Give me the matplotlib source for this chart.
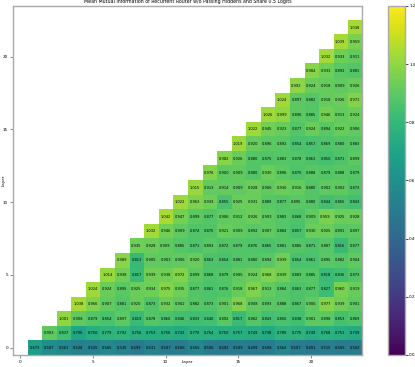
import matplotlib
matplotlib.use("Agg")
import matplotlib.pyplot as plt
import numpy as np

n_layers = 24
layers = list(range(n_layers))

# mean mutual information, row r holds layers r+1 .. 23
row_00 = [0.673, 0.587, 0.561, 0.528, 0.525, 0.565, 0.535, 0.499, 0.531, 0.507, 0.506, 0.555,
          0.506, 0.492, 0.509, 0.499, 0.508, 0.562, 0.507, 0.491, 0.515, 0.505, 0.502]
row_01 = [0.903, 0.837, 0.706, 0.750, 0.779, 0.792, 0.756, 0.759, 0.756, 0.743, 0.770, 0.764,
          0.750, 0.757, 0.749, 0.738, 0.780, 0.775, 0.749, 0.768, 0.751, 0.739]
row_02 = [1.001, 0.908, 0.879, 0.854, 0.897, 0.819, 0.878, 0.860, 0.846, 0.833, 0.840, 0.892,
          0.817, 0.882, 0.843, 0.856, 0.838, 0.901, 0.898, 0.853, 0.869]
row_03 = [1.038, 0.966, 0.907, 0.881, 0.920, 0.873, 0.932, 0.902, 0.882, 0.873, 0.901, 0.968,
          0.908, 0.893, 0.888, 0.867, 0.906, 0.977, 0.939, 0.901]
row_04 = [1.024, 0.924, 0.895, 0.925, 0.934, 0.975, 0.935, 0.877, 0.861, 0.876, 0.918, 0.967,
          0.913, 0.884, 0.863, 0.877, 0.827, 0.960, 0.919]
row_05 = [1.014, 0.938, 0.817, 0.939, 0.938, 0.972, 0.899, 0.868, 0.879, 0.905, 0.924, 0.968,
          0.939, 0.883, 0.885, 0.818, 0.836, 0.873]
row_06 = [0.989, 0.813, 0.905, 0.903, 0.906, 0.920, 0.863, 0.854, 0.881, 0.880, 0.894, 0.939,
          0.854, 0.861, 0.895, 0.882, 0.904]
row_07 = [0.935, 0.928, 0.909, 0.885, 0.871, 0.893, 0.872, 0.879, 0.876, 0.865, 0.881, 0.885,
          0.871, 0.887, 0.816, 0.877]
row_08 = [1.032, 0.946, 0.909, 0.874, 0.875, 0.921, 0.909, 0.892, 0.907, 0.884, 0.857, 0.930,
          0.925, 0.891, 0.897]
row_09 = [1.042, 0.947, 0.899, 0.877, 0.906, 0.912, 0.926, 0.903, 0.883, 0.868, 0.909, 0.959,
          0.925, 0.928]
row_10 = [1.022, 0.963, 0.933, 0.855, 0.925, 0.931, 0.889, 0.877, 0.895, 0.880, 0.844, 0.865, 0.843]
row_11 = [1.015, 0.913, 0.914, 0.909, 0.928, 0.906, 0.930, 0.916, 0.880, 0.902, 0.902, 0.873]
row_12 = [0.976, 0.900, 0.909, 0.880, 0.930, 0.896, 0.870, 0.888, 0.879, 0.888, 0.879]
row_13 = [0.982, 0.926, 0.880, 0.875, 0.883, 0.878, 0.863, 0.850, 0.871, 0.899]
row_14 = [1.019, 0.920, 0.896, 0.892, 0.854, 0.857, 0.869, 0.880, 0.883]
row_15 = [1.022, 0.945, 0.923, 0.877, 0.924, 0.894, 0.922, 0.906]
row_16 = [1.026, 0.999, 0.896, 0.885, 0.946, 0.913, 0.924]
row_17 = [1.024, 0.897, 0.882, 0.918, 0.926, 0.971]
row_18 = [0.992, 0.924, 0.918, 0.909, 0.926]
row_19 = [0.984, 0.933, 0.892, 0.881]
row_20 = [1.032, 0.933, 0.911]
row_21 = [1.039, 0.959]
row_22 = [1.038]

rows = [row_00, row_01, row_02, row_03, row_04, row_05, row_06, row_07, row_08, row_09,
        row_10, row_11, row_12, row_13, row_14, row_15, row_16, row_17, row_18, row_19,
        row_20, row_21, row_22]

mat = np.full((n_layers, n_layers), np.nan)
for r, vals in enumerate(rows):
    mat[r, r + 1:r + 1 + len(vals)] = vals
masked = np.ma.masked_invalid(mat)

fig = plt.figure(figsize=(4.15, 3.67), dpi=100)
ax = fig.add_axes([0.031, 0.033, 0.841, 0.951])
cax = fig.add_axes([0.935, 0.033, 0.041, 0.951])

im = ax.imshow(masked, origin="lower", cmap="viridis", vmin=0, vmax=1.2, aspect="auto",
               interpolation="nearest")

for r in range(n_layers):
    for c in range(n_layers):
        if not np.isnan(mat[r, c]):
            ax.text(c, r, f"{mat[r, c]:.3f}", ha="center", va="center", fontsize=2.6, color="black")

ax.set_title("Mean Mutual Information of Recurrent Router w/o Passing Hiddens and Share 0.5 Logits",
             fontsize=3.4, pad=2)
ax.set_xlabel("Layer", fontsize=3)
ax.set_ylabel("Layer", fontsize=3)
ax.xaxis.set_label_coords(0.5, -0.015)
ax.yaxis.set_label_coords(-0.021, 0.5)
ax.set_xticks([0, 5, 10, 15, 20])
ax.set_yticks([0, 5, 10, 15, 20])
ax.tick_params(labelsize=3, length=2, width=0.5, pad=1.5, color="#555555")
for s in ax.spines.values():
    s.set_color("#aaaaaa")
    s.set_linewidth(1)

cb = fig.colorbar(im, cax=cax)
cb.set_ticks([0.0, 0.2, 0.4, 0.6, 0.8, 1.0, 1.2])
cb.ax.tick_params(labelsize=3, length=2, width=0.5, pad=1)
cb.outline.set_edgecolor("#aaaaaa")
cb.outline.set_linewidth(1)

fig.savefig("out.png", dpi=100)
